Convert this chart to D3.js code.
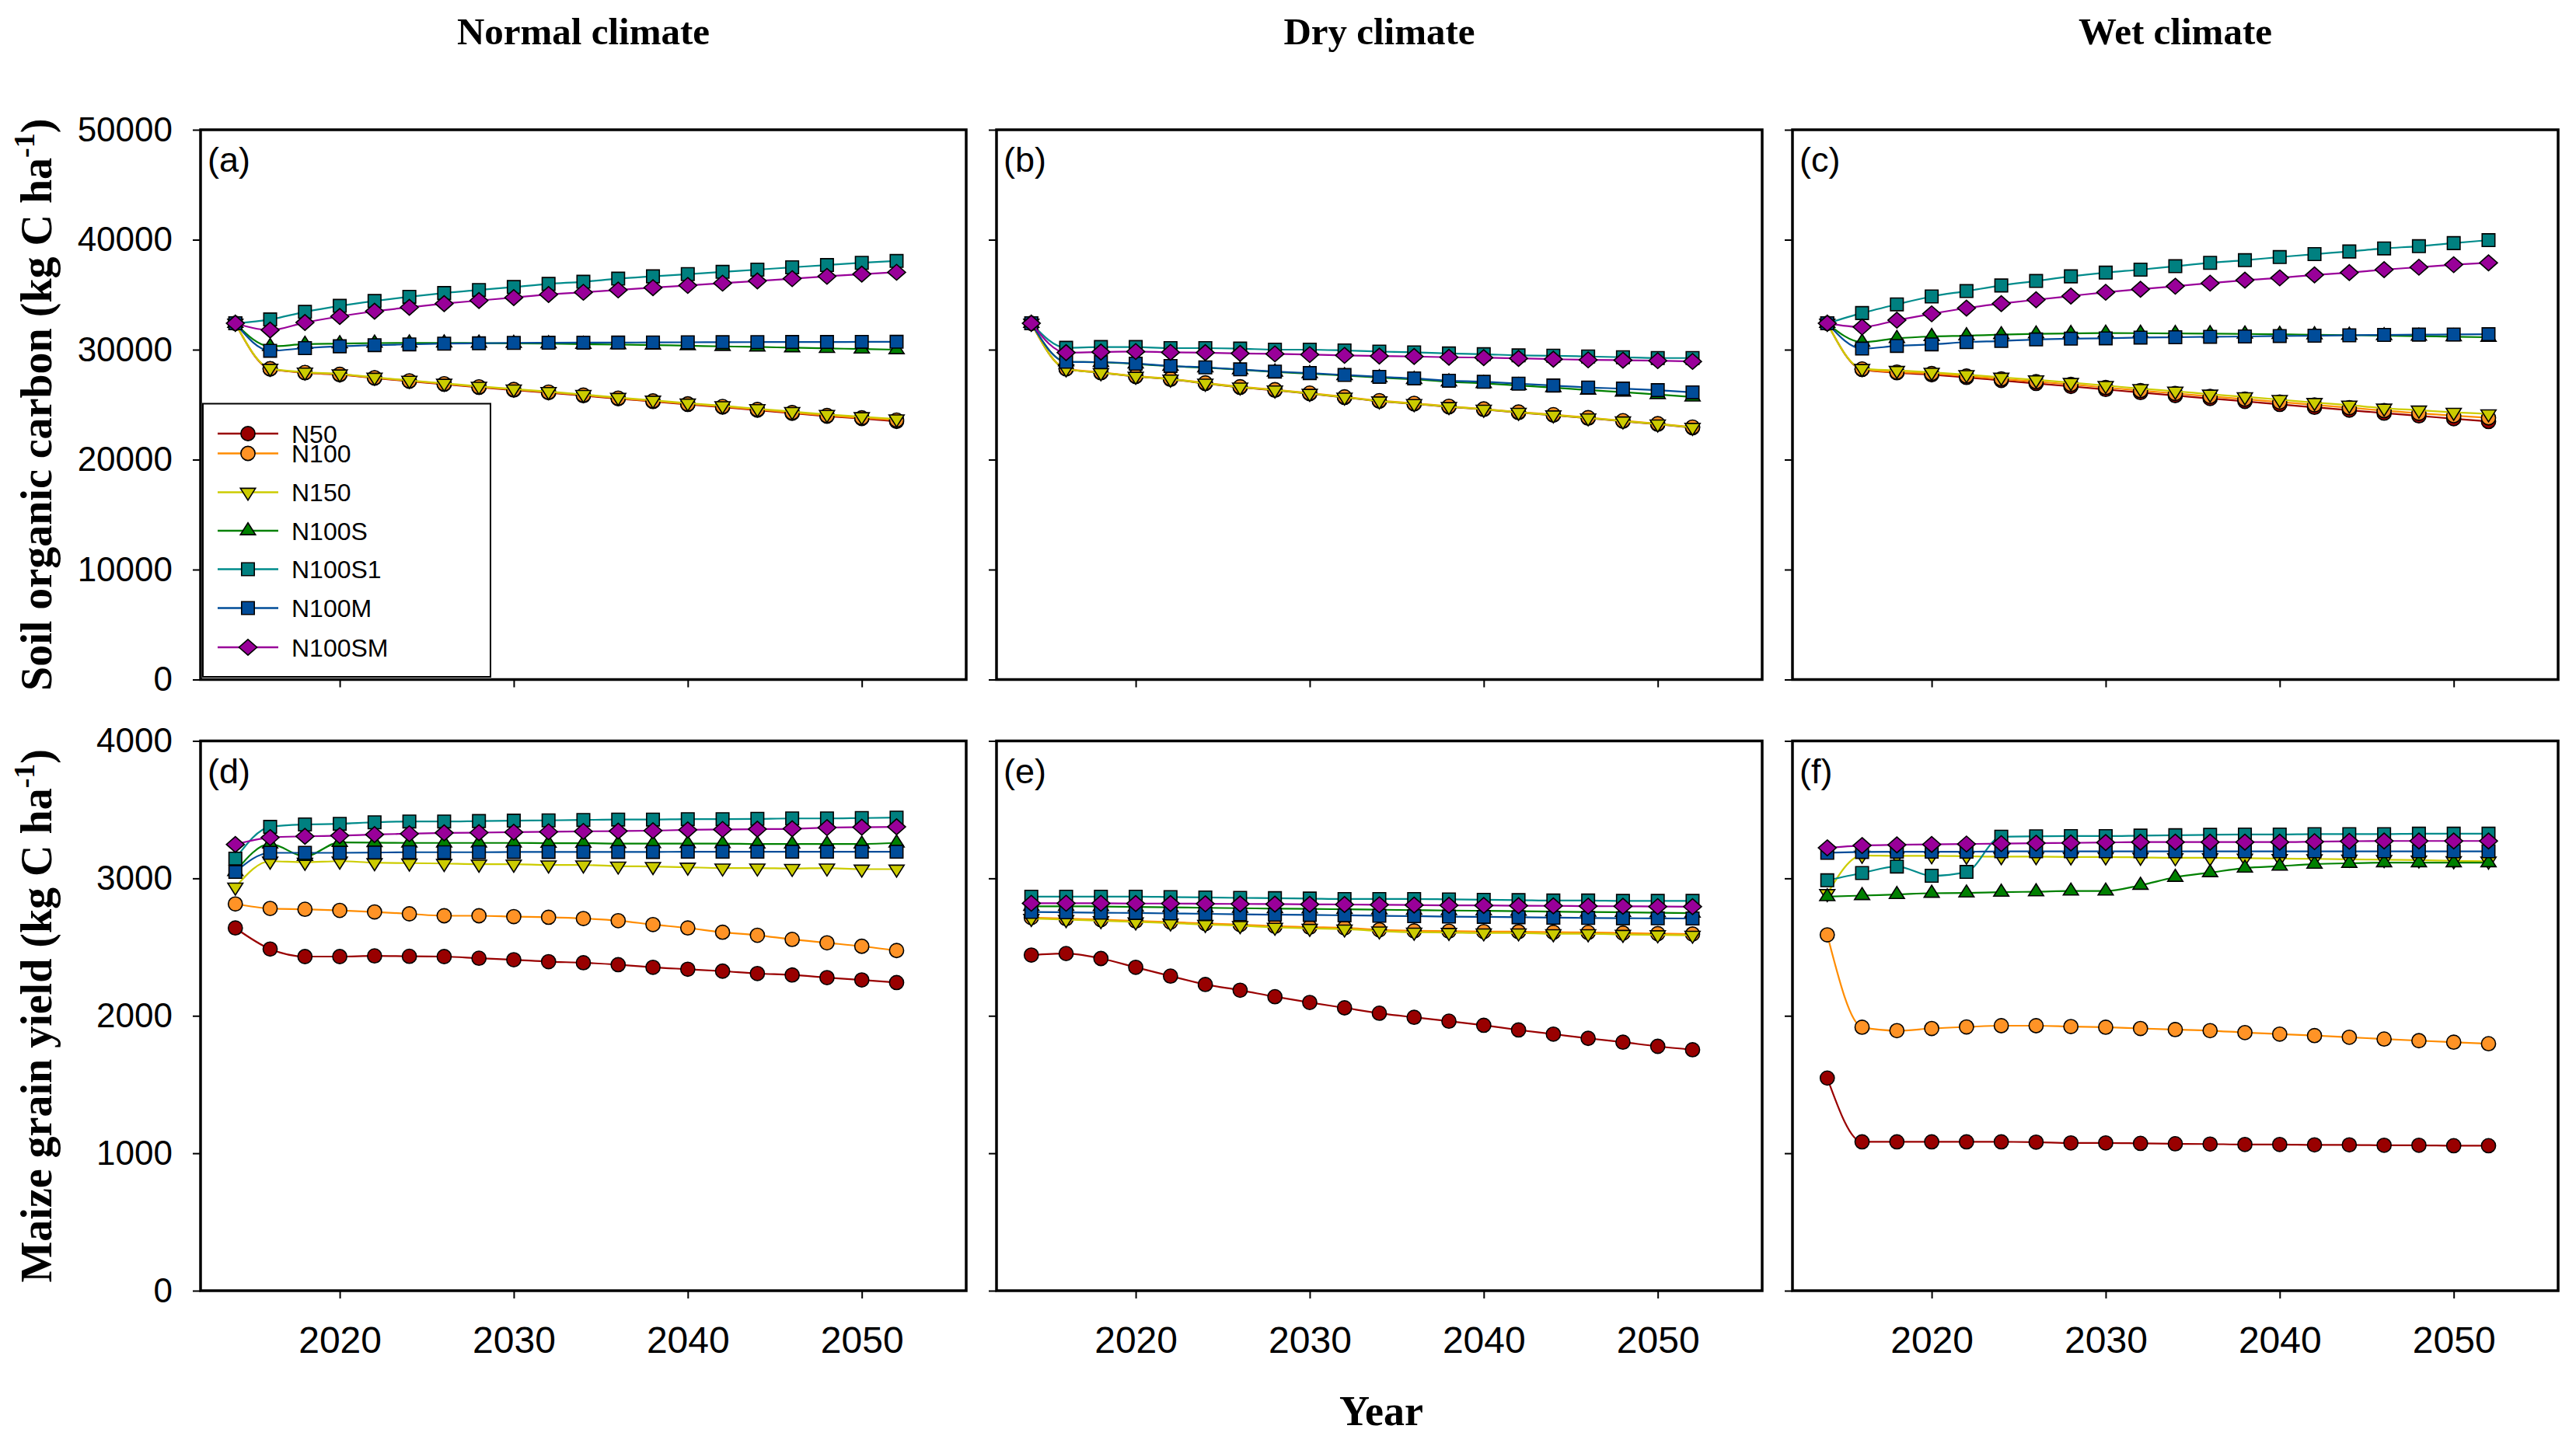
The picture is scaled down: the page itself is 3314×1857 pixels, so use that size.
<!DOCTYPE html>
<html>
<head>
<meta charset="utf-8">
<script src="https://cdn.jsdelivr.net/npm/d3@7"></script>
<style>
  body { margin: 0; background: #fff; }
  svg { display: block; background: #fff; }
</style>
</head>
<body>
<svg id="chart" width="3314" height="1857"></svg>
<script>
// ---- data ----
var years = [2014, 2016, 2018, 2020, 2022, 2024, 2026, 2028, 2030, 2032,
             2034, 2036, 2038, 2040, 2042, 2044, 2046, 2048, 2050, 2052];

var seriesNames = ["N50", "N100", "N150", "N100S", "N100S1", "N100M", "N100SM"];
var climates = ["Normal climate", "Dry climate", "Wet climate"];
var panelTags = [["(a)", "(b)", "(c)"], ["(d)", "(e)", "(f)"]];
var socTicks = [0, 10000, 20000, 30000, 40000, 50000];
var yieldTicks = [0, 1000, 2000, 3000, 4000];
var yearTicks = [2020, 2030, 2040, 2050];

// soil organic carbon (kg C/ha), rows in seriesNames order
var socNormal = [
  [32400, 28250, 27900, 27720, 27420, 27130, 26860, 26580, 26330, 26090, 25820, 25540, 25290, 25020, 24780, 24500, 24220, 23950, 23740, 23480],
  [32400, 28270, 27930, 27760, 27450, 27170, 26900, 26620, 26380, 26140, 25870, 25590, 25340, 25070, 24830, 24560, 24280, 24010, 23800, 23600],
  [32400, 28300, 27960, 27790, 27490, 27210, 26940, 26670, 26420, 26190, 25920, 25650, 25400, 25140, 24900, 24630, 24370, 24110, 23900, 23700],
  [32400, 30300, 30500, 30550, 30600, 30620, 30620, 30600, 30580, 30550, 30500, 30460, 30420, 30360, 30300, 30250, 30180, 30120, 30060, 30000],
  [32400, 32750, 33440, 33990, 34430, 34810, 35150, 35430, 35700, 35980, 36180, 36460, 36670, 36870, 37080, 37280, 37490, 37700, 37900, 38070],
  [32400, 29900, 30140, 30310, 30410, 30480, 30550, 30580, 30620, 30630, 30640, 30650, 30660, 30670, 30680, 30690, 30700, 30700, 30710, 30720],
  [32400, 31790, 32470, 33020, 33500, 33850, 34190, 34470, 34740, 35020, 35220, 35430, 35640, 35840, 36050, 36250, 36460, 36670, 36870, 37040]
];
var socDry = [
  [32400, 28250, 27900, 27560, 27300, 26930, 26580, 26310, 26000, 25660, 25310, 25070, 24800, 24560, 24280, 24040, 23770, 23490, 23220, 22900],
  [32400, 28280, 27940, 27600, 27350, 26980, 26630, 26360, 26050, 25710, 25360, 25120, 24850, 24610, 24330, 24090, 23820, 23540, 23270, 22960],
  [32400, 28250, 27900, 27580, 27320, 26950, 26600, 26330, 26020, 25680, 25330, 25090, 24820, 24580, 24300, 24060, 23790, 23510, 23240, 22930],
  [32400, 28900, 28850, 28700, 28500, 28360, 28180, 27970, 27820, 27640, 27460, 27300, 27080, 26930, 26740, 26550, 26330, 26140, 25920, 25700],
  [32400, 30170, 30240, 30240, 30140, 30140, 30100, 30000, 30000, 29930, 29830, 29760, 29660, 29590, 29480, 29450, 29380, 29310, 29240, 29240],
  [32400, 28900, 28870, 28730, 28520, 28390, 28210, 28010, 27870, 27700, 27530, 27390, 27180, 27080, 26910, 26740, 26560, 26460, 26320, 26120],
  [32400, 29730, 29790, 29830, 29760, 29730, 29660, 29620, 29550, 29480, 29420, 29380, 29310, 29280, 29210, 29140, 29070, 29040, 29000, 28930]
];
var socWet = [
  [32400, 28200, 27900, 27720, 27480, 27200, 26930, 26660, 26380, 26100, 25830, 25560, 25300, 25020, 24760, 24500, 24230, 23980, 23720, 23470],
  [32400, 28240, 27960, 27830, 27600, 27340, 27090, 26840, 26560, 26280, 26020, 25750, 25500, 25240, 24980, 24720, 24460, 24220, 24000, 23800],
  [32400, 28280, 28110, 27940, 27730, 27490, 27250, 27010, 26740, 26460, 26220, 25950, 25710, 25460, 25190, 24950, 24680, 24500, 24300, 24160],
  [32400, 30690, 31030, 31200, 31270, 31370, 31440, 31480, 31510, 31500, 31480, 31460, 31430, 31400, 31360, 31320, 31280, 31230, 31180, 31130],
  [32400, 33330, 34120, 34840, 35330, 35840, 36250, 36670, 37010, 37280, 37590, 37900, 38140, 38420, 38690, 38930, 39210, 39410, 39690, 39960],
  [32400, 30100, 30340, 30480, 30690, 30790, 30930, 31000, 31030, 31100, 31130, 31170, 31200, 31240, 31270, 31310, 31340, 31370, 31380, 31410],
  [32400, 32060, 32680, 33260, 33780, 34190, 34540, 34880, 35220, 35500, 35770, 36050, 36320, 36530, 36800, 37010, 37280, 37500, 37730, 37900]
];

// maize grain yield
var yieldNormal = [
  [2639, 2486, 2431, 2431, 2436, 2433, 2431, 2419, 2408, 2394, 2386, 2372, 2353, 2339, 2325, 2308, 2297, 2278, 2261, 2242],
  [2814, 2781, 2775, 2767, 2756, 2742, 2728, 2728, 2722, 2717, 2708, 2692, 2664, 2639, 2608, 2586, 2556, 2531, 2506, 2475],
  [2936, 3125, 3117, 3125, 3114, 3111, 3108, 3103, 3103, 3097, 3097, 3089, 3086, 3081, 3075, 3075, 3072, 3075, 3067, 3067],
  [3050, 3250, 3160, 3262, 3260, 3258, 3258, 3258, 3258, 3256, 3256, 3253, 3253, 3253, 3253, 3250, 3250, 3250, 3250, 3258],
  [3144, 3375, 3392, 3397, 3408, 3414, 3414, 3417, 3420, 3422, 3425, 3428, 3428, 3431, 3431, 3433, 3436, 3436, 3439, 3442],
  [3047, 3186, 3186, 3186, 3188, 3190, 3190, 3190, 3192, 3192, 3192, 3192, 3192, 3194, 3194, 3194, 3194, 3194, 3194, 3194],
  [3247, 3297, 3306, 3311, 3319, 3325, 3331, 3333, 3336, 3339, 3342, 3344, 3347, 3353, 3356, 3358, 3361, 3369, 3372, 3375]
];
var yieldDry = [
  [2442, 2453, 2417, 2353, 2289, 2228, 2186, 2139, 2097, 2058, 2019, 1989, 1961, 1931, 1897, 1867, 1836, 1808, 1778, 1753],
  [2715, 2707, 2700, 2690, 2682, 2672, 2664, 2652, 2645, 2640, 2626, 2618, 2616, 2613, 2612, 2608, 2607, 2602, 2598, 2595],
  [2708, 2700, 2692, 2683, 2675, 2664, 2656, 2644, 2636, 2631, 2617, 2608, 2606, 2603, 2603, 2597, 2597, 2592, 2589, 2586],
  [2797, 2797, 2795, 2792, 2789, 2786, 2783, 2780, 2778, 2775, 2772, 2769, 2766, 2764, 2761, 2758, 2755, 2753, 2750, 2747],
  [2867, 2867, 2867, 2867, 2864, 2861, 2858, 2856, 2853, 2850, 2850, 2850, 2847, 2844, 2842, 2839, 2839, 2836, 2836, 2836],
  [2756, 2753, 2750, 2748, 2745, 2742, 2739, 2736, 2734, 2731, 2728, 2725, 2722, 2720, 2717, 2714, 2712, 2710, 2709, 2708],
  [2819, 2819, 2819, 2817, 2817, 2815, 2814, 2813, 2811, 2810, 2808, 2806, 2804, 2803, 2801, 2800, 2798, 2797, 2795, 2794]
];
var yieldWet = [
  [1547, 1083, 1083, 1083, 1083, 1083, 1081, 1075, 1075, 1072, 1069, 1067, 1064, 1064, 1061, 1061, 1058, 1058, 1055, 1055],
  [2589, 1917, 1892, 1908, 1919, 1928, 1928, 1922, 1917, 1908, 1900, 1892, 1878, 1867, 1856, 1844, 1831, 1819, 1808, 1797],
  [2889, 3167, 3164, 3164, 3161, 3158, 3158, 3156, 3156, 3153, 3150, 3150, 3147, 3144, 3142, 3139, 3136, 3133, 3128, 3125],
  [2867, 2875, 2883, 2892, 2894, 2900, 2903, 2908, 2908, 2950, 3008, 3042, 3075, 3089, 3103, 3110, 3114, 3114, 3114, 3114],
  [2986, 3039, 3086, 3019, 3047, 3303, 3306, 3308, 3308, 3311, 3314, 3317, 3319, 3319, 3322, 3322, 3322, 3325, 3325, 3325],
  [3186, 3192, 3194, 3194, 3194, 3197, 3197, 3197, 3197, 3197, 3197, 3197, 3197, 3197, 3197, 3197, 3197, 3197, 3197, 3197],
  [3222, 3239, 3244, 3247, 3250, 3253, 3256, 3258, 3261, 3264, 3264, 3264, 3264, 3264, 3267, 3270, 3272, 3272, 3272, 3272]
];

// ---- styles ----
var lineColors = ["#990000", "#FF8C00", "#CCCC00", "#008000", "#008B8B", "#004C99", "#990099"];
var fillColors = ["#990000", "#FF9326", "#CCCC00", "#008000", "#008080", "#004C99", "#990099"];

function poly(pts) {
  return {
    draw: function(ctx, size) {
      var h = Math.sqrt(size) / 2;
      ctx.moveTo(pts[0][0] * h, pts[0][1] * h);
      for (var k = 1; k < pts.length; k++) ctx.lineTo(pts[k][0] * h, pts[k][1] * h);
      ctx.closePath();
    }
  };
}
var symSquare = poly([[-1, -1], [1, -1], [1, 1], [-1, 1]]);
var symTriUp = poly([[0, -1.05], [1.0, 0.53], [-1.0, 0.53]]);
var symTriDown = poly([[-1.0, -0.53], [1.0, -0.53], [0, 1.05]]);
var symDiamond = poly([[0, -1.1], [1.25, 0], [0, 1.1], [-1.25, 0]]);
var symbols = [d3.symbolCircle, d3.symbolCircle, symTriDown, symTriUp, symSquare, symSquare, symDiamond];
var symSizes = [260, 260, 380, 380, 270, 270, 340];

var sans = "'Liberation Sans', Arial, sans-serif";
var serif = "'Liberation Serif', 'Times New Roman', serif";

var svg = d3.select("#chart");
var W = 985, H = 707.5;
var lefts = [258, 1282, 2306], tops = [167, 953.5];

var x = d3.scaleLinear().domain([2012, 2056]).range([0, W]);

var rows = [
  { ticks: socTicks, max: 50000, data: [socNormal, socDry, socWet] },
  { ticks: yieldTicks, max: 4000, data: [yieldNormal, yieldDry, yieldWet] }
];

rows.forEach(function(row, r) {
  var y = d3.scaleLinear().domain([0, row.max]).range([H, 0]);
  row.data.forEach(function(panel, c) {
    var g = svg.append("g").attr("transform", "translate(" + lefts[c] + "," + tops[r] + ")");

    // axes
    var yAxis = d3.axisLeft(y).tickValues(row.ticks).tickSize(10).tickSizeOuter(0).tickPadding(26)
      .tickFormat(c == 0 ? d3.format("d") : function() { return ""; });
    var ya = g.append("g").call(yAxis);
    ya.select(".domain").remove();
    ya.selectAll("line").attr("stroke", "#000").attr("stroke-width", 2);
    ya.selectAll("text").attr("font-size", 44).attr("font-family", sans).attr("fill", "#000");

    var xAxis = d3.axisBottom(x).tickValues(yearTicks).tickSize(10).tickSizeOuter(0)
      .tickFormat(r == 1 ? d3.format("d") : function() { return ""; });
    var xa = g.append("g").attr("transform", "translate(0," + H + ")").call(xAxis);
    xa.select(".domain").remove();
    xa.selectAll("line").attr("stroke", "#000").attr("stroke-width", 2);
    xa.selectAll("text").attr("font-size", 48).attr("font-family", sans).attr("fill", "#000")
      .attr("y", 80).attr("dy", 0);

    // series
    var line = d3.line()
      .x(function(d, i) { return x(years[i]); })
      .y(function(d) { return y(d); })
      .curve(d3.curveMonotoneX);

    panel.forEach(function(vals, s) {
      var sg = g.append("g").attr("class", "series " + seriesNames[s]);
      sg.append("path").datum(vals)
        .attr("d", line)
        .attr("fill", "none")
        .attr("stroke", lineColors[s])
        .attr("stroke-width", 2.2);
      sg.selectAll("path.pt").data(vals).enter().append("path")
        .attr("class", "pt")
        .attr("transform", function(d, i) { return "translate(" + x(years[i]) + "," + y(d) + ")"; })
        .attr("d", d3.symbol().type(symbols[s]).size(symSizes[s]))
        .attr("fill", fillColors[s])
        .attr("stroke", "#000")
        .attr("stroke-width", 1.6);
    });

    // frame
    g.append("rect").attr("x", 0).attr("y", 0).attr("width", W).attr("height", H)
      .attr("fill", "none").attr("stroke", "#000").attr("stroke-width", 3.5);

    g.append("text").attr("x", 9).attr("y", 54)
      .attr("font-family", sans).attr("font-size", 45).attr("fill", "#000")
      .text(panelTags[r][c]);

    // legend in panel (a)
    if (r == 0 && c == 0) {
      var lg = g.append("g").attr("transform", "translate(3,352.5)");
      lg.append("rect").attr("width", 370).attr("height", 351.5)
        .attr("fill", "#fff").attr("stroke", "#000").attr("stroke-width", 2);
      var legendY = [38.5, 64, 114, 163.5, 213, 263, 313.5];
      seriesNames.forEach(function(name, s) {
        var e = lg.append("g").attr("transform", "translate(0," + legendY[s] + ")");
        e.append("line").attr("x1", 19).attr("x2", 97).attr("y1", 0).attr("y2", 0)
          .attr("stroke", lineColors[s]).attr("stroke-width", 2.5);
        e.append("path").attr("transform", "translate(58,0)")
          .attr("d", d3.symbol().type(symbols[s]).size(symSizes[s]))
          .attr("fill", fillColors[s]).attr("stroke", "#000").attr("stroke-width", 1.6);
        e.append("text").attr("x", 114).attr("y", 0).attr("dy", "0.36em")
          .attr("font-family", sans).attr("font-size", 32).attr("fill", "#000")
          .text(name);
      });
    }
  });
});

// column titles
climates.forEach(function(t, c) {
  svg.append("text").attr("x", lefts[c] + W / 2).attr("y", 57)
    .attr("text-anchor", "middle").attr("font-family", serif).attr("font-weight", "bold")
    .attr("font-size", 49).attr("fill", "#000").text(t);
});

// y axis titles
var yTitles = ["Soil organic carbon (kg C ha", "Maize grain yield (kg C ha"];
yTitles.forEach(function(t, r) {
  var tx = svg.append("text")
    .attr("transform", "translate(66," + (tops[r] + H / 2) + ") rotate(-90)")
    .attr("text-anchor", "middle").attr("font-family", serif).attr("font-weight", "bold")
    .attr("font-size", 56).attr("fill", "#000");
  tx.append("tspan").text(t);
  tx.append("tspan").attr("dy", -22).attr("font-size", 38).text("-1");
  tx.append("tspan").attr("dy", 22).text(")");
});

svg.append("text").attr("x", 1777).attr("y", 1834)
  .attr("text-anchor", "middle").attr("font-family", serif).attr("font-weight", "bold")
  .attr("font-size", 54).attr("fill", "#000").text("Year");
</script>
</body>
</html>
